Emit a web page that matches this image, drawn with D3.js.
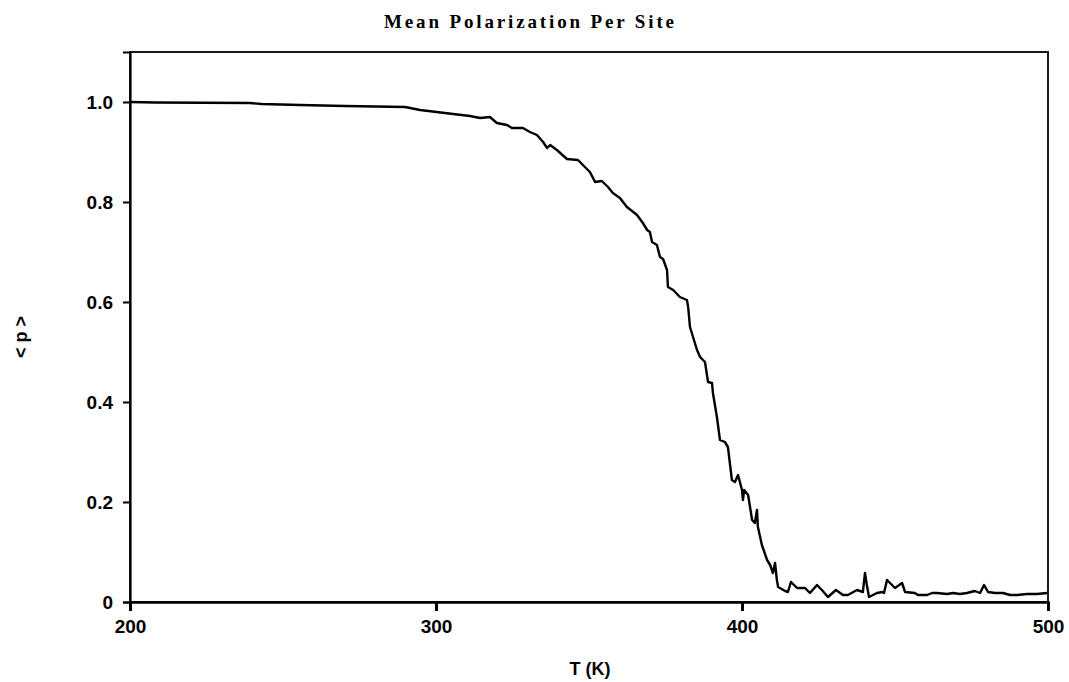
<!DOCTYPE html>
<html>
<head>
<meta charset="utf-8">
<script src="https://cdn.jsdelivr.net/npm/d3@7/dist/d3.min.js"></script>
<style>
  html, body { margin: 0; padding: 0; background: #fff; }
  svg { display: block; }
</style>
</head>
<body>
<svg id="chart" width="1069" height="682"></svg>
<script>
const temps = [200, 208.2, 239.2, 243.1, 255.6, 270.3, 289.9, 294.8, 305.6, 311.1, 314.4, 317.6, 319.9, 323.2, 324.8, 328.4, 330.7, 333.0, 335.0, 336.3, 337.3, 339.5, 342.8, 346.4, 348.0, 350.3, 352.0, 354.2, 356.2, 357.8, 360.1, 362.4, 365.7, 367.6, 369.0, 369.9, 370.6, 372.2, 373.2, 374.2, 375.5, 375.8, 377.5, 379.7, 382.0, 382.4, 383.0, 385.3, 386.3, 387.9, 388.9, 390.2, 390.5, 391.8, 392.8, 394.4, 395.4, 396.7, 397.7, 398.7, 400.0, 400.3, 400.7, 402.0, 403.3, 404.2, 404.9, 405.2, 406.5, 408.2, 409.2, 410.1, 410.8, 411.4, 411.8, 414.1, 415.0, 416.0, 418.0, 420.6, 422.2, 424.5, 426.1, 428.1, 430.7, 433.0, 434.6, 437.6, 439.5, 440.2, 440.8, 441.5, 444.1, 445.8, 446.4, 447.4, 450.0, 452.3, 453.3, 456.5, 457.5, 460.5, 462.1, 463.7, 467.0, 469.0, 471.2, 473.5, 476.1, 477.8, 479.1, 480.4, 482.7, 485.3, 487.6, 489.9, 493.1, 496.4, 499.7];
const polarization = [1.0, 0.999, 0.998, 0.996, 0.994, 0.992, 0.990, 0.984, 0.976, 0.972, 0.968, 0.970, 0.958, 0.954, 0.948, 0.948, 0.940, 0.934, 0.920, 0.908, 0.914, 0.904, 0.886, 0.884, 0.874, 0.860, 0.840, 0.842, 0.830, 0.818, 0.808, 0.790, 0.774, 0.758, 0.744, 0.740, 0.720, 0.714, 0.690, 0.686, 0.664, 0.630, 0.624, 0.610, 0.604, 0.590, 0.550, 0.504, 0.490, 0.480, 0.440, 0.438, 0.418, 0.370, 0.324, 0.320, 0.310, 0.244, 0.240, 0.254, 0.224, 0.204, 0.224, 0.214, 0.164, 0.158, 0.184, 0.150, 0.114, 0.084, 0.074, 0.058, 0.078, 0.044, 0.030, 0.022, 0.020, 0.040, 0.028, 0.028, 0.018, 0.034, 0.024, 0.010, 0.024, 0.014, 0.014, 0.024, 0.020, 0.058, 0.034, 0.010, 0.018, 0.020, 0.018, 0.044, 0.028, 0.038, 0.020, 0.018, 0.014, 0.014, 0.018, 0.018, 0.016, 0.018, 0.016, 0.018, 0.022, 0.018, 0.034, 0.020, 0.018, 0.018, 0.014, 0.014, 0.016, 0.016, 0.018];
const xTicks = [200, 300, 400, 500];
const yTicks = [0, 0.2, 0.4, 0.6, 0.8, 1.0];
const yTickLabels = ["0", "0.2", "0.4", "0.6", "0.8", "1.0"];
const titleText = "Mean Polarization Per Site";
const xLabel = "T (K)";
const yLabel = "< p >";

const svg = d3.select("#chart");
const mLeft = 130, mRight = 1048, mTop = 52, mBottom = 602;

const x = d3.scaleLinear().domain([200, 500]).range([mLeft, mRight]);
const y = d3.scaleLinear().domain([0, 1.1]).range([mBottom, mTop]);

// frame
svg.append("rect")
  .attr("x", mLeft).attr("y", mTop)
  .attr("width", mRight - mLeft).attr("height", mBottom - mTop)
  .attr("fill", "none").attr("stroke", "#000").attr("stroke-width", 1.8);

// x axis
const xAxis = svg.append("g")
  .attr("transform", `translate(0,${mBottom})`)
  .call(d3.axisBottom(x).tickValues(xTicks).tickSize(9).tickPadding(9).tickFormat(d3.format("d")));
xAxis.select(".domain").attr("stroke-width", 2.5);
xAxis.selectAll(".tick line").attr("stroke-width", 3);
xAxis.selectAll("text")
  .attr("font-family", "Liberation Sans, Arial, sans-serif")
  .attr("font-weight", "bold").attr("font-size", 19).attr("fill", "#000");

// y axis
const yAxis = svg.append("g")
  .attr("transform", `translate(${mLeft},0)`)
  .call(d3.axisLeft(y).tickValues(yTicks).tickSize(7).tickPadding(10)
    .tickFormat((d, i) => yTickLabels[i]));
yAxis.select(".domain").attr("stroke-width", 2.2);
yAxis.selectAll(".tick line").attr("stroke-width", 2);
yAxis.selectAll("text")
  .attr("font-family", "Liberation Sans, Arial, sans-serif")
  .attr("font-weight", "bold").attr("font-size", 19).attr("fill", "#000");

// line
const data = temps.map((t, i) => [t, polarization[i]]);
svg.append("path")
  .datum(data)
  .attr("fill", "none")
  .attr("stroke", "#000")
  .attr("stroke-width", 2.4)
  .attr("stroke-linejoin", "round")
  .attr("d", d3.line().x(d => x(d[0])).y(d => y(d[1])));

// title
svg.append("text")
  .attr("x", 529).attr("y", 28)
  .attr("text-anchor", "middle")
  .attr("font-family", "Liberation Serif, Times New Roman, serif")
  .attr("font-weight", "bold").attr("font-size", 19)
  .attr("textLength", 290).attr("lengthAdjust", "spacing")
  .text(titleText);

// x label
svg.append("text")
  .attr("x", 590).attr("y", 675)
  .attr("text-anchor", "middle")
  .attr("font-family", "Liberation Sans, Arial, sans-serif")
  .attr("font-weight", "bold").attr("font-size", 18)
  .text(xLabel);

// y label
svg.append("text")
  .attr("transform", "translate(27,337) rotate(-90)")
  .attr("text-anchor", "middle")
  .attr("font-family", "Liberation Sans, Arial, sans-serif")
  .attr("font-weight", "bold").attr("font-size", 18)
  .text(yLabel);
</script>
</body>
</html>
